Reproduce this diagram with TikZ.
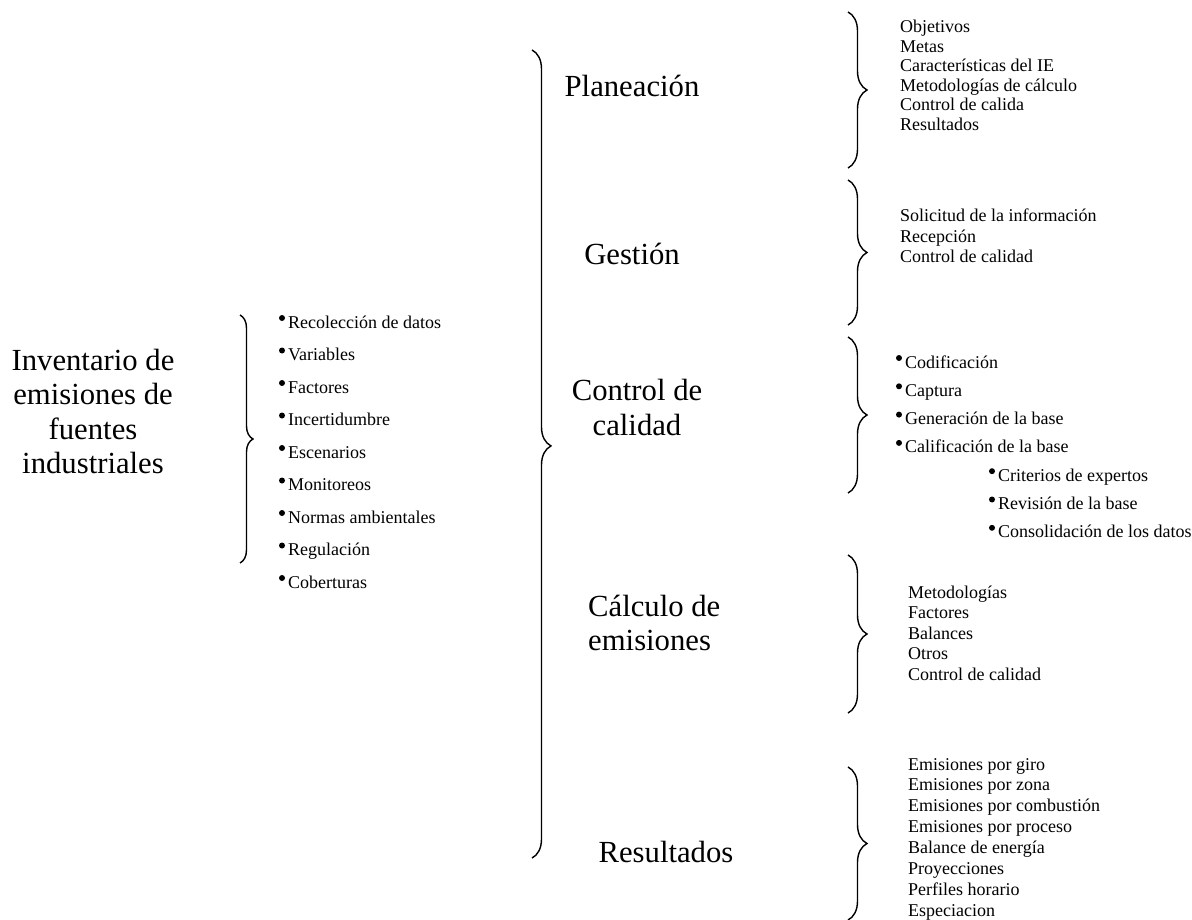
\documentclass[tikz,border=0pt]{standalone}
\usepackage{fontspec}
\setmainfont{Liberation Serif}
\usetikzlibrary{decorations.pathreplacing}

\begin{document}
\begin{tikzpicture}[x=1pt, y=-1pt,
  big/.style={font=\fontsize{30.7}{35}\selectfont, inner sep=0pt},
  item/.style={font=\fontsize{18}{20}\selectfont, anchor=base west, inner sep=0pt},
  curly/.style={decorate, line width=1.4pt, decoration={brace, amplitude=#1}},
  curly/.default=19]
  \useasboundingbox (0,0) rectangle (1192,920);

  % Title on the left
  \foreach \t [count=\i] in {Inventario de, emisiones de, fuentes, industriales}
    \node[big, anchor=base] (title\i) at (93, {370+(\i-1)*34.5}) {\t};

  % Bulleted topics
  \foreach \t [count=\i] in {Recolección de datos, Variables, Factores,
      Incertidumbre, Escenarios, Monitoreos, Normas ambientales, Regulación,
      Coberturas} {
    \node[item] (src\i) at (288, {328+(\i-1)*32.5}) {\t};
    \fill ([shift={(-6,-10)}]src\i.base west) circle (3);
  }
  \draw[curly=13] (240,315) -- (240,563);

  % Stages
  \node[big, anchor=base] (plan) at (632,97) {Planeación};
  \node[big, anchor=base] (gest) at (632,265) {Gestión};
  \node[big, anchor=base] (ctrl1) at (637,400) {Control de};
  \node[big, anchor=base] (ctrl2) at (637,435) {calidad};
  \node[big, anchor=base west] (calc1) at (588,616) {Cálculo de};
  \node[big, anchor=base west] (calc2) at (588,650) {emisiones};
  \node[big, anchor=base] (res) at (666,862) {Resultados};
  \draw[curly, decoration={aspect=0.49}] (532,50) -- (532,858);

  % Planeación
  \draw[curly] (848,12) -- (848,168);
  \foreach \t [count=\i] in {Objetivos, Metas, Características del IE,
      Metodologías de cálculo, Control de calida, Resultados}
    \node[item] (pl\i) at (900, {33+(\i-1)*19.5}) {\t};

  % Gestión
  \draw[curly] (848,180) -- (848,325);
  \foreach \t [count=\i] in {Solicitud de la información, Recepción,
      Control de calidad}
    \node[item] (ge\i) at (900, {222+(\i-1)*20.5}) {\t};

  % Control de calidad
  \draw[curly] (848,337) -- (848,493);
  \foreach \t [count=\i] in {Codificación, Captura, Generación de la base,
      Calificación de la base} {
    \node[item] (cc\i) at (905, {368+(\i-1)*28.3}) {\t};
    \fill ([shift={(-6,-10)}]cc\i.base west) circle (3);
  }
  \foreach \t [count=\i from 5] in {Criterios de expertos, Revisión de la base,
      Consolidación de los datos} {
    \node[item] (cc\i) at (998, {368+(\i-1)*28.3}) {\t};
    \fill ([shift={(-6,-10)}]cc\i.base west) circle (3);
  }

  % Cálculo de emisiones
  \draw[curly] (848,555) -- (848,713);
  \foreach \t [count=\i] in {Metodologías, Factores, Balances, Otros,
      Control de calidad}
    \node[item] (ce\i) at (908, {598+(\i-1)*20.5}) {\t};

  % Resultados
  \draw[curly] (848,767) -- (848,920);
  \foreach \t [count=\i] in {Emisiones por giro, Emisiones por zona,
      Emisiones por combustión, Emisiones por proceso, Balance de energía,
      Proyecciones, Perfiles horario, Especiacion}
    \node[item] (rs\i) at (908, {770+(\i-1)*20.9}) {\t};
\end{tikzpicture}
\end{document}
